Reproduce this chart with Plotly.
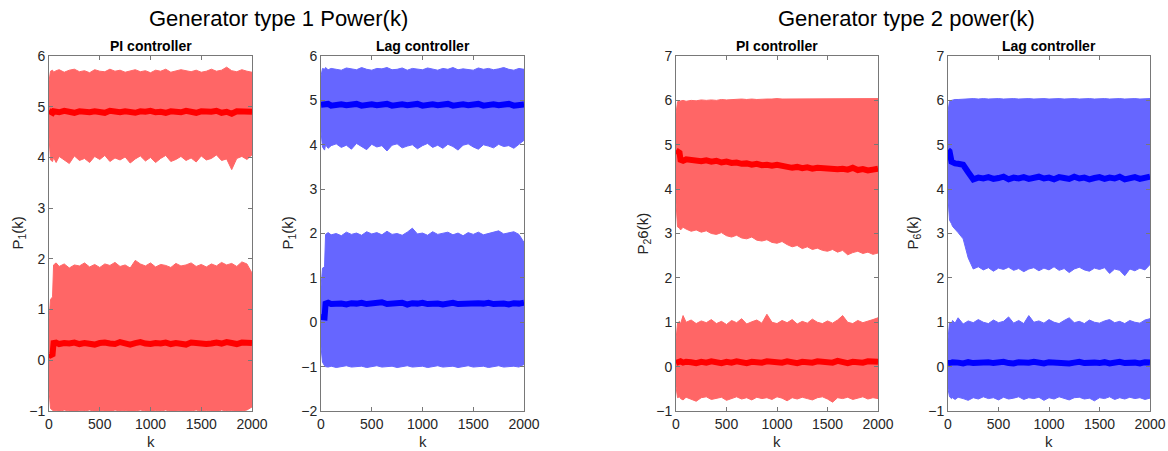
import plotly.graph_objects as go

# ---------------- data ----------------
K = [0, 15, 35, 45, 70, 100, 150, 200, 250, 300, 350,
     400, 450, 500, 550, 600, 650, 700, 750, 800, 850, 900,
     950, 1000, 1050, 1100, 1150, 1200, 1250, 1300, 1350, 1400, 1450,
     1500, 1550, 1600, 1650, 1700, 1750, 1800, 1850, 1900, 1950, 2000]

# Generator type 1, PI controller
g1_pi_hi_top = [5.50, 5.70, 5.72, 5.68, 5.71, 5.73, 5.68, 5.72, 5.74, 5.69, 5.71,
                5.67, 5.73, 5.70, 5.69, 5.74, 5.70, 5.72, 5.68, 5.70, 5.73, 5.69,
                5.71, 5.67, 5.72, 5.70, 5.74, 5.68, 5.70, 5.73, 5.71, 5.69, 5.72,
                5.68, 5.70, 5.74, 5.70, 5.72, 5.78, 5.71, 5.69, 5.73, 5.70, 5.68]
g1_pi_hi_bot = [4.40, 3.95, 3.92, 4.00, 3.90, 4.02, 3.95, 3.88, 4.03, 3.94, 3.98,
                3.90, 4.02, 3.96, 4.04, 3.92, 3.99, 3.95, 4.01, 3.89, 3.97, 4.03,
                3.93, 4.00, 3.90, 3.98, 4.04, 3.92, 3.96, 4.02, 3.94, 3.99, 3.91,
                4.03, 3.95, 3.98, 4.05, 3.94, 3.97, 3.76, 3.98, 4.02, 3.96, 4.05]
g1_pi_hi_mean = [4.92, 4.90, 4.88, 4.91, 4.90, 4.89, 4.92, 4.90, 4.88, 4.91, 4.90,
                 4.89, 4.91, 4.90, 4.88, 4.92, 4.90, 4.89, 4.91, 4.90, 4.88, 4.91,
                 4.90, 4.92, 4.89, 4.90, 4.88, 4.91, 4.90, 4.89, 4.92, 4.90, 4.88,
                 4.91, 4.89, 4.90, 4.92, 4.88, 4.90, 4.86, 4.91, 4.90, 4.89, 4.90]
g1_pi_lo_top = [0.80, 1.20, 1.25, 1.88, 1.92, 1.85, 1.90, 1.82, 1.88, 1.86, 1.92,
                1.84, 1.89, 1.83, 1.90, 1.87, 1.93, 1.85, 1.88, 1.82, 1.97, 1.90,
                1.86, 1.92, 1.84, 1.89, 1.87, 1.83, 1.91, 1.86, 1.88, 1.92, 1.85,
                1.89, 1.84, 1.90, 1.86, 1.93, 1.88, 1.91, 1.85, 1.94, 1.90, 1.72]
g1_pi_lo_bot = [-0.60, -0.95, -0.98, -1.00, -0.99, -1.01, -0.98, -1.00, -1.02, -0.99, -1.00,
                -0.98, -1.01, -0.99, -1.00, -1.02, -0.98, -1.00, -0.99, -1.01, -1.00, -0.98,
                -1.00, -1.02, -0.99, -1.00, -0.98, -1.01, -1.00, -0.99, -1.02, -1.00, -0.98,
                -1.01, -0.99, -1.00, -1.02, -0.98, -1.00, -0.99, -1.01, -1.00, -0.98, -0.92]
g1_pi_lo_mean = [0.12, 0.10, 0.12, 0.34, 0.35, 0.32, 0.34, 0.33, 0.35, 0.32, 0.34,
                 0.33, 0.31, 0.34, 0.35, 0.33, 0.32, 0.36, 0.33, 0.31, 0.34, 0.36,
                 0.33, 0.32, 0.34, 0.33, 0.35, 0.32, 0.34, 0.33, 0.31, 0.35, 0.33,
                 0.34, 0.32, 0.33, 0.35, 0.33, 0.36, 0.34, 0.32, 0.35, 0.33, 0.34]

# Generator type 1, Lag controller
g1_lag_hi_top = [5.55, 5.72, 5.70, 5.74, 5.69, 5.72, 5.70, 5.68, 5.73, 5.71, 5.69,
                 5.74, 5.70, 5.68, 5.72, 5.71, 5.74, 5.69, 5.70, 5.73, 5.68, 5.72,
                 5.70, 5.69, 5.73, 5.71, 5.68, 5.72, 5.70, 5.74, 5.69, 5.71, 5.70,
                 5.68, 5.73, 5.70, 5.72, 5.69, 5.71, 5.74, 5.70, 5.68, 5.72, 5.70]
g1_lag_hi_bot = [4.30, 3.95, 3.88, 4.00, 3.92, 3.98, 4.02, 3.94, 3.99, 3.90, 4.03,
                 3.96, 3.89, 4.01, 3.95, 3.98, 3.86, 3.99, 4.02, 3.93, 3.97, 4.00,
                 3.91, 3.98, 4.03, 3.94, 3.99, 3.92, 4.01, 3.96, 3.88, 3.99, 4.02,
                 3.95, 3.90, 4.00, 3.97, 3.93, 4.01, 3.96, 3.98, 3.92, 4.00, 4.10]
g1_lag_hi_mean = [4.90, 4.91, 4.89, 4.90, 4.92, 4.88, 4.90, 4.91, 4.89, 4.90, 4.92,
                  4.88, 4.90, 4.91, 4.89, 4.90, 4.92, 4.88, 4.90, 4.91, 4.89, 4.90,
                  4.92, 4.88, 4.90, 4.91, 4.89, 4.90, 4.92, 4.88, 4.90, 4.91, 4.89,
                  4.90, 4.92, 4.88, 4.90, 4.91, 4.89, 4.90, 4.92, 4.88, 4.90, 4.91]
g1_lag_lo_top = [0.80, 1.22, 1.25, 1.98, 2.02, 1.97, 2.00, 1.95, 2.03, 1.98, 2.01,
                 1.96, 2.04, 1.99, 2.02, 1.97, 2.05, 1.98, 2.00, 1.96, 2.03, 2.12,
                 1.99, 2.01, 1.96, 2.04, 1.98, 2.00, 2.03, 1.97, 2.01, 1.95, 2.02,
                 1.98, 2.03, 1.97, 2.00, 2.02, 2.06, 1.99, 2.01, 2.04, 1.98, 1.80]
g1_lag_lo_bot = [-0.55, -0.90, -0.98, -1.00, -1.01, -0.99, -1.02, -1.00, -0.98, -1.01, -1.00,
                 -0.99, -1.02, -1.00, -0.98, -1.01, -1.00, -0.99, -1.02, -1.00, -0.98, -1.01,
                 -1.00, -0.99, -1.02, -1.00, -0.98, -1.01, -1.00, -0.99, -1.02, -1.00, -0.98,
                 -1.01, -1.00, -0.99, -1.02, -1.00, -0.98, -1.01, -1.00, -0.99, -1.01, -0.95]
g1_lag_lo_mean = [0.12, 0.10, 0.11, 0.42, 0.44, 0.41, 0.43, 0.42, 0.40, 0.43, 0.42,
                  0.44, 0.41, 0.43, 0.42, 0.45, 0.41, 0.43, 0.42, 0.44, 0.40, 0.43,
                  0.42, 0.44, 0.41, 0.43, 0.42, 0.40, 0.43, 0.44, 0.41, 0.42, 0.43,
                  0.41, 0.43, 0.42, 0.44, 0.41, 0.43, 0.42, 0.40, 0.43, 0.42, 0.44]

# Generator type 2, PI controller
g2_pi_hi_top = [5.70, 5.97, 5.98, 5.99, 6.00, 5.98, 6.00, 5.99, 6.01, 6.00, 6.01,
                6.00, 6.02, 6.01, 6.02, 6.02, 6.03, 6.02, 6.03, 6.02, 6.03, 6.03,
                6.03, 6.04, 6.03, 6.03, 6.04, 6.03, 6.04, 6.03, 6.04, 6.04, 6.03,
                6.04, 6.03, 6.04, 6.04, 6.03, 6.04, 6.04, 6.03, 6.04, 6.04, 6.04]
g2_pi_hi_bot = [3.70, 3.15, 3.12, 3.08, 3.14, 3.10, 3.05, 3.08, 3.03, 3.06, 3.00,
                2.98, 3.02, 2.95, 2.92, 2.96, 2.90, 2.88, 2.92, 2.85, 2.83, 2.86,
                2.80, 2.78, 2.82, 2.75, 2.70, 2.73, 2.66, 2.70, 2.64, 2.67, 2.62,
                2.60, 2.64, 2.58, 2.62, 2.52, 2.57, 2.60, 2.55, 2.58, 2.53, 2.56]
g2_pi_hi_mean = [4.87, 4.85, 4.82, 4.66, 4.64, 4.67, 4.65, 4.66, 4.63, 4.65, 4.62,
                 4.64, 4.60, 4.62, 4.59, 4.60, 4.57, 4.58, 4.55, 4.57, 4.54, 4.55,
                 4.53, 4.55, 4.52, 4.50, 4.48, 4.50, 4.47, 4.49, 4.46, 4.48, 4.47,
                 4.45, 4.47, 4.45, 4.46, 4.44, 4.48, 4.43, 4.45, 4.42, 4.44, 4.46]
g2_pi_lo_top = [0.60, 0.98, 1.02, 0.96, 1.15, 1.00, 1.05, 0.97, 1.03, 0.99, 1.06,
                0.97, 1.02, 0.95, 1.04, 0.99, 1.08, 0.96, 1.01, 1.05, 0.98, 1.18,
                1.00, 0.97, 1.04, 0.99, 1.06, 0.96, 1.02, 0.98, 1.07, 1.00, 0.97,
                1.03, 0.98, 1.05, 1.15, 1.00, 0.97, 1.04, 0.99, 1.02, 1.06, 1.10]
g2_pi_lo_bot = [-0.45, -0.70, -0.68, -0.72, -0.75, -0.69, -0.73, -0.78, -0.70, -0.68, -0.74,
                -0.71, -0.69, -0.76, -0.72, -0.68, -0.73, -0.70, -0.75, -0.69, -0.72, -0.70,
                -0.74, -0.68, -0.71, -0.77, -0.70, -0.73, -0.69, -0.72, -0.75, -0.70, -0.68,
                -0.73, -0.80, -0.70, -0.72, -0.69, -0.74, -0.71, -0.68, -0.73, -0.70, -0.72]
g2_pi_lo_mean = [0.08, 0.09, 0.10, 0.12, 0.09, 0.11, 0.10, 0.08, 0.11, 0.09, 0.12,
                 0.10, 0.08, 0.11, 0.09, 0.12, 0.10, 0.08, 0.11, 0.10, 0.09, 0.12,
                 0.10, 0.11, 0.09, 0.12, 0.10, 0.08, 0.11, 0.10, 0.09, 0.12, 0.10,
                 0.11, 0.09, 0.13, 0.10, 0.08, 0.11, 0.10, 0.09, 0.12, 0.10, 0.11]

# Generator type 2, Lag controller
g2_lag_hi_top = [5.75, 5.98, 6.00, 6.01, 6.02, 6.02, 6.03, 6.03, 6.04, 6.03, 6.04,
                 6.03, 6.04, 6.04, 6.03, 6.04, 6.04, 6.03, 6.04, 6.04, 6.03, 6.04,
                 6.04, 6.03, 6.04, 6.04, 6.03, 6.04, 6.04, 6.03, 6.04, 6.04, 6.03,
                 6.04, 6.04, 6.03, 6.04, 6.04, 6.03, 6.04, 6.04, 6.03, 6.04, 6.04]
g2_lag_hi_bot = [3.80, 3.30, 3.22, 3.16, 3.10, 3.02, 2.88, 2.45, 2.20, 2.25, 2.18,
                 2.23, 2.15, 2.22, 2.19, 2.24, 2.17, 2.21, 2.14, 2.20, 2.23, 2.16,
                 2.22, 2.18, 2.25, 2.17, 2.21, 2.12, 2.20, 2.24, 2.18, 2.15, 2.22,
                 2.19, 2.23, 2.10, 2.20, 2.17, 2.05, 2.20, 2.16, 2.22, 2.18, 2.30]
g2_lag_hi_mean = [4.88, 4.85, 4.62, 4.60, 4.58, 4.57, 4.55, 4.38, 4.22, 4.26, 4.24,
                  4.27, 4.23, 4.25, 4.28, 4.22, 4.26, 4.24, 4.27, 4.23, 4.25, 4.28,
                  4.24, 4.26, 4.22, 4.27, 4.25, 4.23, 4.28, 4.24, 4.26, 4.22, 4.25,
                  4.27, 4.23, 4.26, 4.24, 4.28, 4.22, 4.25, 4.27, 4.23, 4.26, 4.28]
g2_lag_lo_top = [0.62, 1.00, 0.97, 1.04, 0.98, 1.10, 0.96, 1.03, 0.99, 1.06, 1.00,
                 0.97, 1.05, 0.99, 1.02, 1.12, 0.98, 1.04, 0.97, 1.15, 1.00, 1.03,
                 0.98, 1.06, 1.00, 0.97, 1.04, 1.10, 0.99, 1.02, 0.97, 1.05, 1.00,
                 0.98, 1.03, 1.06, 0.99, 1.02, 0.97, 1.04, 1.00, 0.98, 1.05, 1.08]
g2_lag_lo_bot = [-0.50, -0.68, -0.72, -0.70, -0.74, -0.69, -0.72, -0.76, -0.70, -0.73, -0.68,
                 -0.72, -0.70, -0.75, -0.69, -0.73, -0.71, -0.68, -0.74, -0.70, -0.72, -0.69,
                 -0.76, -0.70, -0.73, -0.68, -0.72, -0.75, -0.70, -0.69, -0.73, -0.71, -0.77,
                 -0.70, -0.72, -0.68, -0.74, -0.70, -0.73, -0.69, -0.72, -0.70, -0.74, -0.71]
g2_lag_lo_mean = [0.08, 0.07, 0.09, 0.10, 0.08, 0.09, 0.07, 0.10, 0.08, 0.09, 0.07,
                  0.10, 0.08, 0.09, 0.11, 0.08, 0.07, 0.10, 0.08, 0.09, 0.11, 0.08,
                  0.07, 0.10, 0.09, 0.08, 0.10, 0.07, 0.09, 0.11, 0.08, 0.10, 0.09,
                  0.08, 0.10, 0.07, 0.09, 0.11, 0.08, 0.10, 0.09, 0.07, 0.10, 0.09]

x_ticks = [0, 500, 1000, 1500, 2000]
x_title = "k"
panel_titles = ["PI controller", "Lag controller", "PI controller", "Lag controller"]
y_titles = ["P<sub>1</sub>(k)", "P<sub>1</sub>(k)", "P<sub>2</sub>6(k)", "P<sub>6</sub>(k)"]
y_ranges = [[-1, 6], [-2, 6], [-1, 7], [-1, 7]]
suptitles = ["Generator type 1 Power(k)", "Generator type 2 power(k)"]

# ---------------- styling ----------------
W, H = 1168, 451
RED_BAND, RED_LINE = "rgb(255,102,102)", "rgb(255,0,0)"
BLUE_BAND, BLUE_LINE = "rgb(102,102,255)", "rgb(0,0,255)"
FONT = "Liberation Sans, Arial, sans-serif"
TXT = "rgb(38,38,38)"
AX = "rgb(120,120,120)"

panels = [
    (g1_pi_hi_top, g1_pi_hi_bot, g1_pi_hi_mean, g1_pi_lo_top, g1_pi_lo_bot, g1_pi_lo_mean, RED_BAND, RED_LINE),
    (g1_lag_hi_top, g1_lag_hi_bot, g1_lag_hi_mean, g1_lag_lo_top, g1_lag_lo_bot, g1_lag_lo_mean, BLUE_BAND, BLUE_LINE),
    (g2_pi_hi_top, g2_pi_hi_bot, g2_pi_hi_mean, g2_pi_lo_top, g2_pi_lo_bot, g2_pi_lo_mean, RED_BAND, RED_LINE),
    (g2_lag_hi_top, g2_lag_hi_bot, g2_lag_hi_mean, g2_lag_lo_top, g2_lag_lo_bot, g2_lag_lo_mean, BLUE_BAND, BLUE_LINE),
]

# plot areas in window pixels (left, right)
xpix = [(49, 252), (321, 524), (676, 878), (948, 1150)]
ylab_x = [18, 288, 643, 913]
ytop, ybot = 56, 411


def px(v):
    return v / W


def py(v):
    return 1 - v / H


fig = go.Figure()
layout = dict(
    width=W, height=H, margin=dict(l=0, r=0, t=0, b=0, autoexpand=False),
    paper_bgcolor="white", plot_bgcolor="white", showlegend=False,
    font=dict(family=FONT, size=14, color=TXT),
)
annotations = []
for i, (ht, hb, hm, lt, lb, lm, band, line) in enumerate(panels):
    n = i + 1
    xa = "x" if n == 1 else f"x{n}"
    ya = "y" if n == 1 else f"y{n}"
    for top, bot, mean in ((ht, hb, hm), (lt, lb, lm)):
        fig.add_trace(go.Scatter(
            x=K + K[::-1], y=top + bot[::-1], fill="toself", fillcolor=band,
            mode="lines", line=dict(color=band, width=1), xaxis=xa, yaxis=ya,
            hoverinfo="skip"))
        fig.add_trace(go.Scatter(
            x=K, y=mean, mode="lines", line=dict(color=line, width=6),
            xaxis=xa, yaxis=ya))
    l, r = xpix[i]
    common = dict(showline=True, linecolor=AX, linewidth=1, mirror="ticks",
                  ticks="inside", ticklen=4, tickcolor=AX, showgrid=False,
                  zeroline=False, automargin=False, ticklabeloverflow="allow",
                  tickfont=dict(size=14, color=TXT, family=FONT))
    layout["xaxis" if n == 1 else f"xaxis{n}"] = dict(
        domain=[px(l), px(r)], range=[0, 2000], tickvals=x_ticks, anchor=ya, **common)
    lo, hi = y_ranges[i]
    layout["yaxis" if n == 1 else f"yaxis{n}"] = dict(
        domain=[py(ybot), py(ytop)], range=[lo, hi], dtick=1, anchor=xa, **common)
    annotations.append(dict(
        text=f"<b>{panel_titles[i]}</b>", x=px((l + r) / 2), y=py(46),
        xref="paper", yref="paper", showarrow=False,
        font=dict(size=14, color="black", family=FONT), xanchor="center", yanchor="middle"))
    annotations.append(dict(
        text=x_title, x=px((l + r) / 2), y=py(441), xref="paper", yref="paper",
        showarrow=False, font=dict(size=15, color=TXT, family=FONT),
        xanchor="center", yanchor="middle"))
    annotations.append(dict(
        text=y_titles[i], x=px(ylab_x[i]), y=py((ytop + ybot) / 2), xref="paper", yref="paper",
        showarrow=False, textangle=-90, font=dict(size=15, color=TXT, family=FONT),
        xanchor="center", yanchor="middle"))

annotations.append(dict(text=suptitles[0], x=px(278), y=py(19), xref="paper", yref="paper",
                        showarrow=False, font=dict(size=22, color="black", family=FONT),
                        xanchor="center", yanchor="middle"))
annotations.append(dict(text=suptitles[1], x=px(906), y=py(19), xref="paper", yref="paper",
                        showarrow=False, font=dict(size=22, color="black", family=FONT),
                        xanchor="center", yanchor="middle"))
layout["annotations"] = annotations
fig.update_layout(**layout)
fig.write_html("out.html", config={"displayModeBar": False},
               post_script="document.body.style.margin='0px';document.body.style.overflow='hidden';")
